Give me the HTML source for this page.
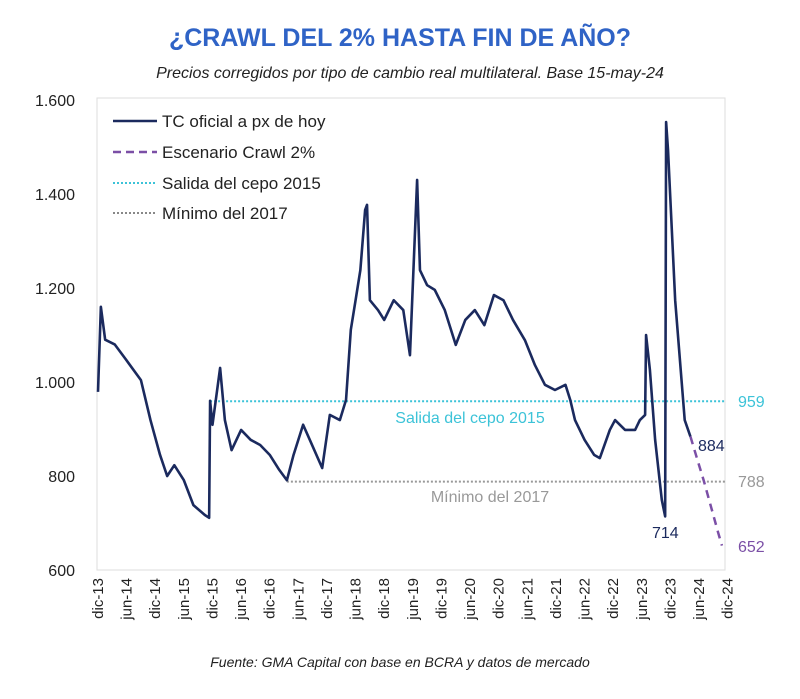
<!DOCTYPE html>
<html><head><meta charset="utf-8"><style>
body{margin:0;background:#fff;}
svg text{font-family:"Liberation Sans",sans-serif;}
</style></head><body>
<svg width="800" height="694" xmlns="http://www.w3.org/2000/svg" id="chart">
<text x="400" y="46" text-anchor="middle" font-size="25" font-weight="bold" fill="#2f63c6">¿CRAWL DEL 2% HASTA FIN DE AÑO?</text>
<text x="410" y="78" text-anchor="middle" font-size="16" font-style="italic" fill="#222">Precios corregidos por tipo de cambio real multilateral. Base 15-may-24</text>
<rect x="97" y="98" width="628" height="472" fill="none" stroke="#ddd"/>
<g id="yaxis"></g>
<g id="xaxis"></g>
<g id="series"></g>
<g>
 <line x1="113" y1="121" x2="157" y2="121" stroke="#1b2a5e" stroke-width="2.5"/><text x="162" y="127" font-size="17" fill="#222">TC oficial a px de hoy</text>
 <line x1="113" y1="152" x2="157" y2="152" stroke="#7b4fa6" stroke-width="2.5" stroke-dasharray="8,5"/><text x="162" y="158" font-size="17" fill="#222">Escenario Crawl 2%</text>
 <line x1="113" y1="183" x2="157" y2="183" stroke="#3cc3d8" stroke-width="2" stroke-dasharray="2,2"/><text x="162" y="189" font-size="17" fill="#222">Salida del cepo 2015</text>
 <line x1="113" y1="213" x2="157" y2="213" stroke="#888" stroke-width="2" stroke-dasharray="2,2"/><text x="162" y="219" font-size="17" fill="#222">Mínimo del 2017</text>
</g>
<text x="400" y="667" text-anchor="middle" font-size="14" font-style="italic" fill="#222">Fuente: GMA Capital con base en BCRA y datos de mercado</text>
</svg>
<script>
const yTicks=[600,800,1000,1200,1400,1600];
const yTickLabels=["600","800","1.000","1.200","1.400","1.600"];
const xTickLabels=["dic-13","jun-14","dic-14","jun-15","dic-15","jun-16","dic-16","jun-17","dic-17","jun-18","dic-18","jun-19","dic-19","jun-20","dic-20","jun-21","dic-21","jun-22","dic-22","jun-23","dic-23","jun-24","dic-24"];
const tcMonths=[0,0.6,1.5,3.5,5.7,9,11,13,14.5,16,18,20,22.4,23.3,23.5,24,25.6,26.6,28,30,32,34,36,38,39.6,41,43,44.4,47,48.6,50.7,52,53,54,55,56,56.4,57,58.7,60,62,64,65.4,66.9,67.5,69,70.6,72.7,75,77,79,81,83,85,87,89.5,91.6,93.7,95.8,98,99,100,102,104,105.2,107.3,108.4,110.5,112.6,113.6,114.7,114.9,115.7,116.8,118.2,118.9,119.1,119.5,121,123,124.2];
const tcValues=[979,1160,1090,1080,1050,1004,919,845,800,823,791,738,717,711,960,909,1030,919,855,898,877,866,845,813,791,845,909,877,817,930,919,962,1111,1174,1238,1366,1377,1174,1153,1132,1174,1153,1057,1430,1238,1206,1196,1153,1079,1132,1153,1121,1185,1174,1132,1089,1036,994,983,994,962,919,877,845,838,898,919,898,898,919,930,1100,1026,877,749,714,1553,1494,1174,919,884];
const crawlMonths=[124.2,125.5,127,128.5,130,130.8];
const crawlValues=[884,840,790,735,680,652];
const refCepo=959, refMin=788;
const NS="http://www.w3.org/2000/svg";
const X0=98,PX=4.77,Y0=570,PY=0.47;
const xs=m=>X0+m*PX, ys=v=>Y0-(v-600)*PY;
function mk(tag,attrs,parent){const e=document.createElementNS(NS,tag);for(const k in attrs)e.setAttribute(k,attrs[k]);parent.appendChild(e);return e;}
const ya=document.getElementById('yaxis'),xa=document.getElementById('xaxis'),sr=document.getElementById('series');
yTicks.forEach((v,i)=>{const t=mk('text',{x:75,y:ys(v)+6,'text-anchor':'end','font-size':16,fill:'#222'},ya);t.textContent=yTickLabels[i];

});
xTickLabels.forEach((l,i)=>{const x=xs(i*6)+5;const t=mk('text',{x:x,y:578,'text-anchor':'end','font-size':15,fill:'#222',transform:`rotate(-90 ${x} 578)`},xa);t.textContent=l;

});
const l1=mk('line',{x1:xs(23.5),x2:725,y1:ys(refCepo),y2:ys(refCepo),stroke:'#3cc3d8','stroke-width':2,'stroke-dasharray':'2,2'},sr);


const l2=mk('line',{x1:xs(39.6),x2:725,y1:ys(refMin),y2:ys(refMin),stroke:'#999','stroke-width':2,'stroke-dasharray':'2,2'},sr);


const p1=mk('polyline',{points:tcMonths.map((m,i)=>xs(m)+','+ys(tcValues[i])).join(' '),fill:'none',stroke:'#1b2a5e','stroke-width':2.6,'stroke-linejoin':'round'},sr);


const p2=mk('polyline',{points:crawlMonths.map((m,i)=>xs(m)+','+ys(crawlValues[i])).join(' '),fill:'none',stroke:'#7b4fa6','stroke-width':2.5,'stroke-dasharray':'8,6'},sr);


function lab(txt,x,y,c,name,anchor){const t=mk('text',{x:x,y:y,'font-size':16,fill:c,'text-anchor':anchor||'start'},sr);t.textContent=txt;

}
lab('Salida del cepo 2015',470,423,'#3cc3d8','cepo-label','middle');
lab('Mínimo del 2017',490,502,'#999','minimo-label','middle');
lab(String(refCepo),738,407,'#3cc3d8','cepo-value-label');
lab(String(refMin),738,487,'#999','minimo-value-label');
lab(String(crawlValues[crawlValues.length-1]),738,552,'#7b4fa6','crawl-end-label');
lab(String(tcValues[tcValues.length-1]),698,451,'#1b2a5e','tc-last-label');
lab('714',652,538,'#1b2a5e','tc-min-label');
</script>
</body></html>
